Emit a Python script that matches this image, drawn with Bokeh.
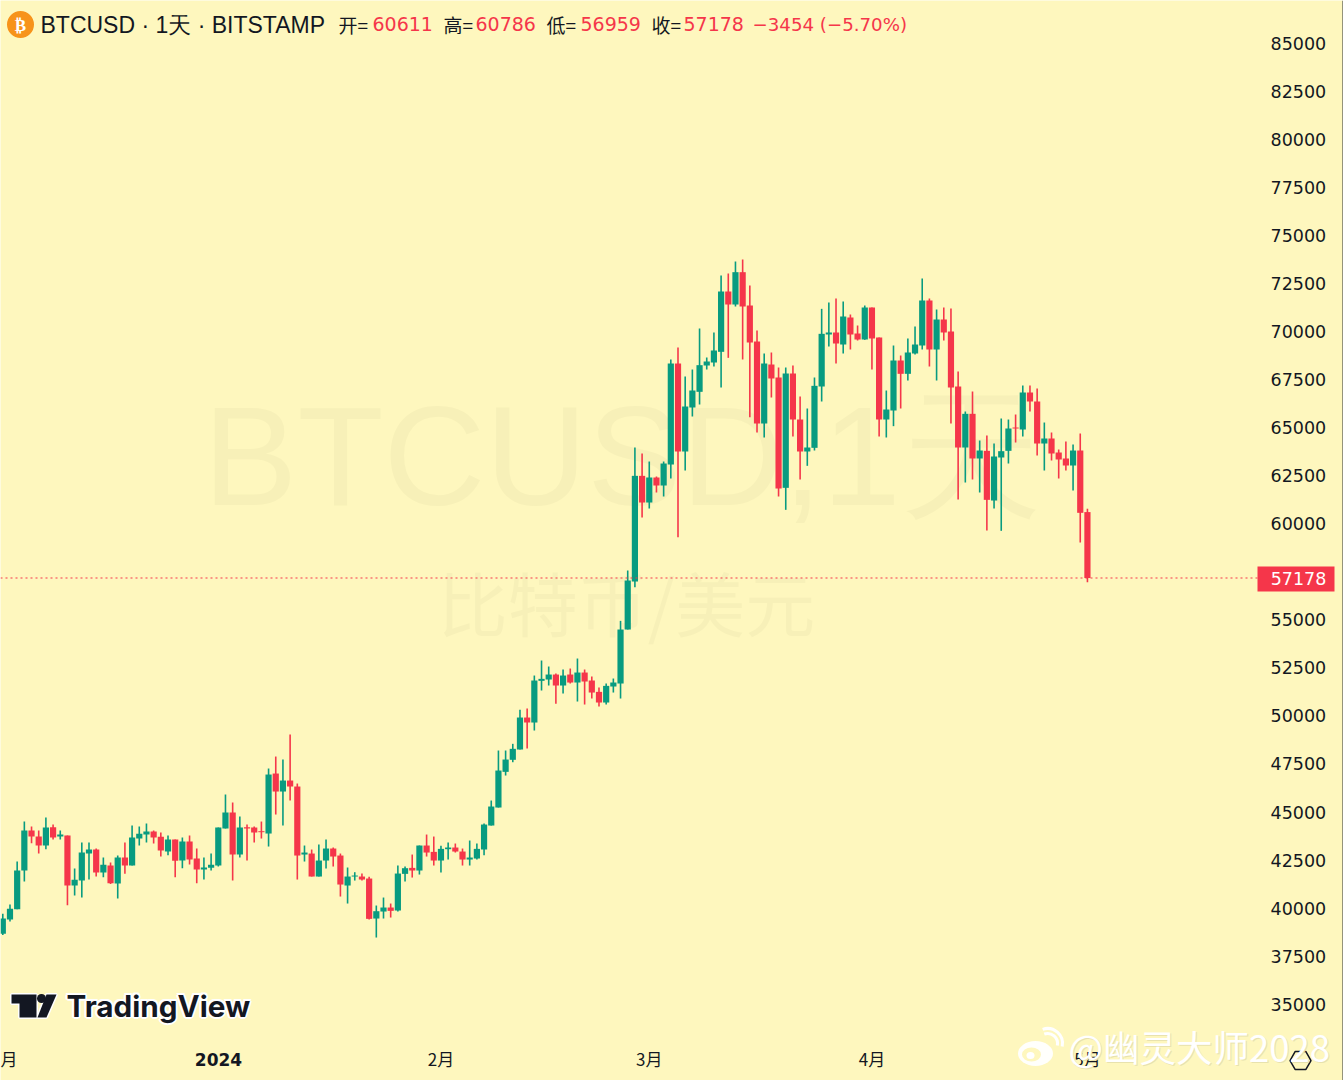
from bokeh.plotting import figure, curdoc
from bokeh.models import Range1d, FixedTicker, Label, CustomJS
from bokeh.embed import file_html
from bokeh.resources import INLINE

opens = [38658,39404,39942,41955,44037,43724,43256,44210,43724,43776,41174,41434,42839,43048,41850,42215,41278,42631,42215,43620,
43828,43984,43707,42943,43568,42475,43464,42579,42007,42093,42215,44141,44973,42787,44210,44193,44002,43880,47003,46066,
46639,46327,42787,42839,41642,42475,43100,42735,41174,41642,41642,41538,39456,39820,40029,39873,41781,42093,41955,43256,
42926,42475,43065,43152,42943,42527,42579,43048,44297,45234,47090,47717,48253,49918,49658,51827,51896,52156,51584,52156,
51740,52260,51844,51254,50699,51532,51688,54499,56997,62497,61109,62411,61994,63087,68344,63764,66054,66870,68240,68396,
68952,72092,71415,73098,71363,69489,65221,68292,67616,61873,67824,65430,63764,63955,67147,69854,69958,69333,70739,69906,
69594,71259,69698,65430,65898,68501,67807,68865,69281,71624,69073,70635,70010,67147,63972,65725,63400,63799,61213,63452,
63799,65013,64909,66835,66367,64180,64441,63712,63400,63035,63816,60611]
highs = [39699,40185,42423,44505,44245,44037,44713,44349,44037,43776,42059,43412,43412,43100,42631,42371,42735,43412,44297,44245,
44401,44037,43932,43776,43568,43672,43776,43100,42631,42839,44193,45910,45494,44765,44349,44245,44505,47264,47888,47732,
49033,46483,43256,43048,43308,43568,43152,42839,42111,41868,41798,41625,40133,40549,40237,42215,42163,42787,43256,43828,
43724,43238,43412,43360,43100,43516,43360,44401,45598,48201,48201,48549,50320,50387,52104,52885,52573,52208,52417,52469,
52989,52417,52052,51480,51688,51948,54950,57570,63972,63660,63243,62463,63243,68553,69177,67668,68032,70166,68657,69958,
72925,73029,73653,73758,72404,70062,68865,68917,68136,68136,68240,66627,66002,67616,71190,71519,71728,71571,70895,70322,
71363,71259,69698,66939,69281,68761,69646,70270,72769,71728,71155,71259,71207,67928,65846,66887,64337,64597,64180,65482,
65429,65690,67199,67199,67043,65273,64753,63868,64284,64128,64701,60786]
lows = [38600,39300,39942,41382,43377,42839,43065,43568,43568,40150,40653,40549,41486,41642,41607,41260,40497,41781,42215,43256,
43412,43360,42683,42753,41607,42076,42267,41295,41486,41955,42163,44141,41434,42631,42475,43412,43620,43204,44869,44297,
45598,41486,42423,41642,41642,42059,42163,40601,40237,41434,41434,39404,38467,39456,39508,39820,41382,41590,41746,42683,
42215,41850,42527,42891,42215,42215,42527,42753,44297,45234,46899,47592,48253,48305,49242,51324,51584,50630,51167,51688,
50751,50595,50907,50491,50595,51219,50907,54499,56703,60328,60797,61630,61422,62359,59305,62775,65586,66210,68032,68188,
67095,68639,71311,68553,65551,64753,64493,66575,61422,60728,64545,62307,63018,63816,66367,69229,68344,68865,69073,69541,
69576,68032,64545,64493,65083,66002,67460,68813,69073,68188,67460,69541,65221,61266,62150,62307,61630,59652,60797,59635,
63139,64232,64545,65846,63556,62775,63296,62359,62775,61734,59027,56959]
closes = [39456,39959,41955,44037,43724,43256,44193,43672,43828,41174,41469,42891,43048,41850,42249,41295,42631,42215,43672,43863,
43984,43672,42996,43568,42458,43464,42527,42007,42111,42249,44193,44973,42787,44193,44141,43932,43950,46951,46066,46639,
46327,42735,42891,41642,42475,43100,42683,41226,41642,41694,41486,39439,39838,40029,39855,41798,42076,41955,43256,42891,
42475,43082,43152,42943,42527,42631,43082,44349,45286,47159,47732,48289,49918,49659,51844,51931,52156,51584,52104,51740,
52260,51792,51219,50699,51566,51740,54499,57049,62497,61109,62411,61994,63139,68344,63764,66106,66939,68258,68449,69021,
72092,71415,73098,71311,69437,65221,68344,67564,61838,67824,65430,63764,63972,67182,69889,69958,69385,70791,69854,69593,
71259,69646,65430,65950,68501,67807,68917,69333,71624,69073,70635,69958,67095,63972,65725,63400,63816,61248,63504,63781,
64961,64961,66835,66367,64180,64441,63660,63348,63035,63816,60572,57178]

price_ticks = [35000,37500,40000,42500,45000,47500,50000,52500,55000,60000,62500,65000,67500,70000,72500,75000,77500,80000,82500,85000]
month_ticks = {1.5: "月", 62: "2月", 91: "3月", 122: "4月", 152: "5月"}
last_price = 57178
title_main = "BTCUSD · 1天 · BITSTAMP"
ohlc = [("开=", 338, "60611", 372), ("高=", 443, "60786", 475), ("低=", 546, "56959", 580), ("收=", 651, "57178", 683)]
change_text = "−3454 (−5.70%)"

BG = "#fef7be"
GREEN = "#089b80"
RED = "#f5364a"
DARK = "#131722"
NUM = "DejaVu Sans"
CJK = "Noto Sans CJK SC"

W, H = 1343, 1080
PANE_R, PANE_B = 1257, 1040
PX_PER_BAR = 7.183
PX_PER_USD = 0.019213

def xd(px):
    return 1 + (px - 2.3) / PX_PER_BAR

def yd(py):
    return 85000 - (py - 43) / PX_PER_USD

p = figure(width=W, height=H, frame_width=W, frame_height=H,
           x_range=Range1d(xd(0), xd(W)), y_range=Range1d(yd(H), yd(0)),
           output_backend="svg", toolbar_location=None, y_axis_location="right",
           min_border=0, min_border_left=0, min_border_right=0, min_border_top=0, min_border_bottom=0,
           background_fill_color=BG, border_fill_color=BG, outline_line_color=None)
p.grid.visible = False

ax = p.xaxis[0]
ax.fixed_location = yd(PANE_B)
ax.ticker = FixedTicker(ticks=list(month_ticks))
ax.major_label_overrides = month_ticks
ax.major_label_text_font = CJK
ax.major_label_text_font_size = "17px"
ax.major_label_text_color = DARK
ax.axis_line_color = None
ax.major_tick_line_color = None
ax.minor_tick_line_color = None
ax.major_tick_out = 0
ax.major_label_standoff = 5

ay = p.yaxis[0]
ay.fixed_location = xd(PANE_R)
ay.ticker = FixedTicker(ticks=price_ticks)
ay.major_label_text_font = NUM
ay.major_label_text_font_size = "17.5px"
ay.major_label_text_color = DARK
ay.axis_line_color = None
ay.major_tick_line_color = None
ay.minor_tick_line_color = None
ay.major_tick_out = 0
ay.major_label_standoff = 13
ay.formatter.use_scientific = False

def lab(text, px, py, size, color=DARK, font=NUM, align="left", style="normal", **kw):
    l = Label(x=px, y=H - py, x_units="screen", y_units="screen", text=text,
              text_font=font, text_font_size=f"{size}px", text_color=color, text_align=align,
              text_baseline="middle", text_font_style=style, **kw)
    p.add_layout(l)
    return l

# watermark
lab("BTCUSD,1天", 622, 455, 141, color="#f7f0b8", font="Liberation Sans", align="center", level="image")
lab("比特币/美元", 626, 601, 70, color="#f7f0b8", font=CJK, align="center", level="image")

# candles
idx = list(range(1, len(opens) + 1))
colors = [GREEN if c >= o else RED for o, c in zip(opens, closes)]
p.segment(idx, lows, idx, highs, line_color=colors, line_width=1.6)
p.vbar(x=idx, top=[max(o, c) for o, c in zip(opens, closes)], bottom=[min(o, c) for o, c in zip(opens, closes)],
       width=6.2 / PX_PER_BAR, fill_color=colors, line_color=None)

# last price line and tag
p.line([xd(0), xd(PANE_R)], [last_price, last_price], line_color=RED, line_width=1.1, line_dash="2 3")
p.quad(left=[xd(PANE_R)], right=[xd(1334)], top=[yd(566)], bottom=[yd(591)], fill_color=RED, line_color=None)
lab(str(last_price), 1298, 578, 17.5, color="#ffffff", align="center")

# right edge
p.line([xd(1342.5), xd(1342.5)], [yd(0), yd(H)], line_color="#2a2e39", line_width=1)

# header
p.scatter([xd(20)], [yd(24)], size=27, marker="circle", fill_color="#f7931a", line_color=None)
lab("₿", 20, 24, 17, color="#ffffff", align="center", style="bold")
lab(title_main, 40, 24, 23, font="Liberation Sans")
for t1, x1, t2, x2 in ohlc:
    lab(t1, x1, 23.5, 19, font=CJK)
    lab(t2, x2, 23.5, 19, color=RED)
lab(change_text, 752, 23.5, 18.2, color=RED)

# x-axis year
lab("2024", 218, 1059, 17, align="center", style="bold")

# TradingView logo
T_X = [11, 36, 36, 19, 19, 11]
T_Y = [994, 994, 1017, 1017, 1003, 1003]
S_X = [46, 56, 46, 37]
S_Y = [994, 994, 1017, 1017]
for xs, ys in ((T_X, T_Y), (S_X, S_Y)):
    p.patch([xd(v) for v in xs], [yd(v) for v in ys], fill_color=DARK, line_color="#ffffff", line_width=3)
for xs, ys in ((T_X, T_Y), (S_X, S_Y)):
    p.patch([xd(v) for v in xs], [yd(v) for v in ys], fill_color=DARK, line_color=None)
p.scatter([xd(41)], [yd(998)], size=9, marker="circle", fill_color=DARK, line_color=None)
for dx, dy in ((-2, 0), (2, 0), (0, -2), (0, 2), (-1.5, -1.5), (1.5, 1.5), (-1.5, 1.5), (1.5, -1.5)):
    lab("TradingView", 66 + dx, 1005 + dy, 29.7, color="#ffffff", font="Inter", style="bold")
lab("TradingView", 66, 1005, 29.7, font="Inter", style="bold")

# settings icon
p.scatter([xd(1300)], [yd(1060)], size=21, marker="hex", fill_color=None, line_color=DARK, line_width=1.5)
p.scatter([xd(1300)], [yd(1060)], size=8, marker="dash", line_color=DARK, line_width=1.5)

# weibo mark
p.ellipse([xd(1035)], [yd(1053)], width=35 / PX_PER_BAR, height=25 / PX_PER_USD, fill_color="#ffffff", line_color=None, fill_alpha=0.95)
p.ellipse([xd(1031)], [yd(1054)], width=19 / PX_PER_BAR, height=14 / PX_PER_USD, fill_color=BG, line_color=None)
p.ellipse([xd(1030)], [yd(1055)], width=8 / PX_PER_BAR, height=7 / PX_PER_USD, fill_color="#ffffff", line_color=None)
p.arc([xd(1047)], [yd(1043)], radius=10 / PX_PER_BAR, start_angle=-0.2, end_angle=1.9, line_color="#ffffff", line_width=3)
p.arc([xd(1047)], [yd(1043)], radius=15 / PX_PER_BAR, start_angle=-0.2, end_angle=1.9, line_color="#ffffff", line_width=3)
lab("@幽灵大师2028", 1069, 1047, 36.5, color="#e8e2ae", font=CJK)
lab("@幽灵大师2028", 1068, 1046, 36.5, color="#ffffff", font=CJK)

curdoc().add_root(p)
curdoc().js_on_event("document_ready", CustomJS(code="document.body.style.margin='0';"))
open("out.html", "w").write(file_html(p, INLINE))
